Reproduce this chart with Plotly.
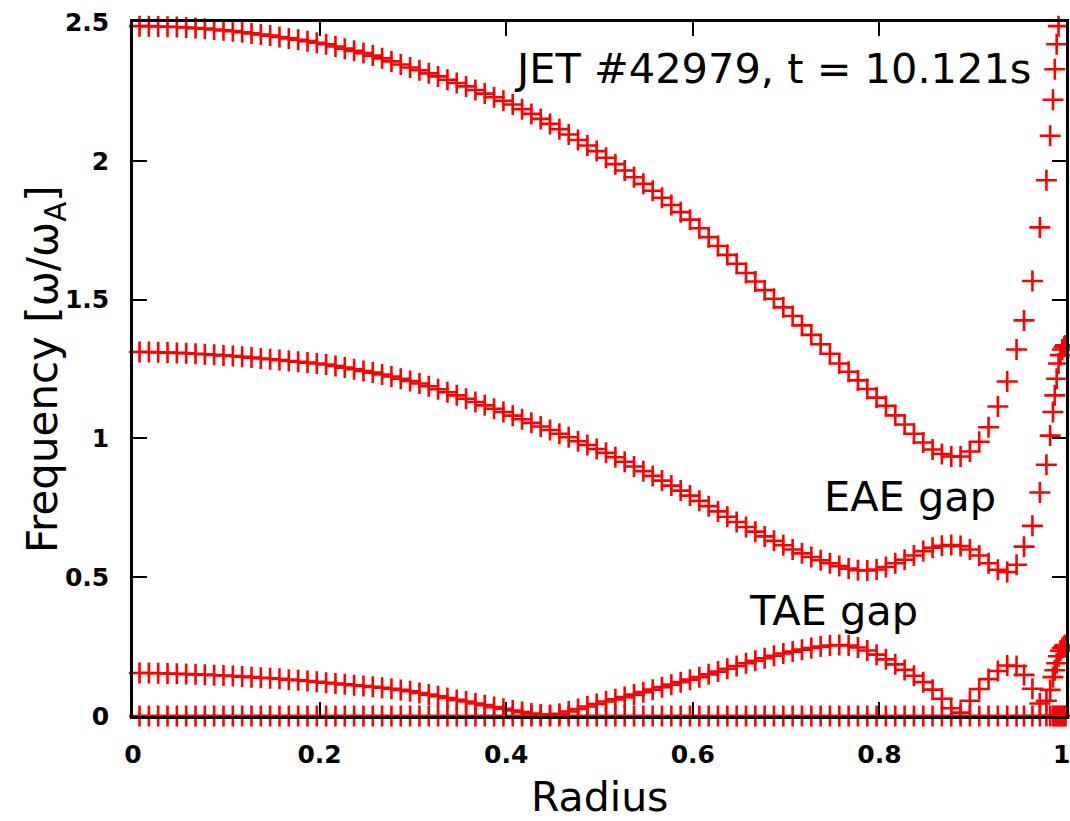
import plotly.graph_objects as go

# Radius grid (normalised minor radius)
radius = [0.007, 0.017, 0.027, 0.037, 0.047, 0.057, 0.067, 0.077, 0.087, 0.097,
          0.107, 0.117, 0.127, 0.137, 0.147, 0.157, 0.167, 0.177, 0.187, 0.197,
          0.207, 0.217, 0.227, 0.237, 0.247, 0.257, 0.267, 0.277, 0.287, 0.297,
          0.307, 0.317, 0.327, 0.337, 0.347, 0.357, 0.367, 0.377, 0.387, 0.397,
          0.407, 0.417, 0.427, 0.437, 0.447, 0.457, 0.467, 0.477, 0.487, 0.497,
          0.507, 0.517, 0.527, 0.537, 0.547, 0.557, 0.567, 0.577, 0.587, 0.597,
          0.607, 0.617, 0.627, 0.637, 0.647, 0.657, 0.667, 0.677, 0.687, 0.697,
          0.707, 0.717, 0.727, 0.737, 0.747, 0.757, 0.767, 0.777, 0.787, 0.797,
          0.807, 0.817, 0.827, 0.837, 0.847, 0.857, 0.867, 0.877, 0.887, 0.897,
          0.907, 0.917, 0.927, 0.937, 0.947,
          0.955, 0.964, 0.972, 0.979, 0.983, 0.986, 0.988, 0.990, 0.992, 0.994,
          0.996, 0.998, 0.9995]

# Upper continuum branch (above EAE gap)
freq_upper = [2.485, 2.485, 2.484, 2.483, 2.482, 2.480, 2.478, 2.476, 2.473, 2.470,
              2.467, 2.463, 2.459, 2.455, 2.451, 2.446, 2.441, 2.436, 2.431, 2.425,
              2.420, 2.412, 2.404, 2.396, 2.388, 2.379, 2.369, 2.358, 2.347, 2.336,
              2.326, 2.315, 2.304, 2.292, 2.280, 2.268, 2.255, 2.242, 2.229, 2.216,
              2.203, 2.186, 2.169, 2.151, 2.133, 2.114, 2.095, 2.075, 2.055, 2.035,
              2.011, 1.988, 1.965, 1.941, 1.917, 1.892, 1.867, 1.841, 1.815, 1.788,
              1.757, 1.725, 1.693, 1.661, 1.629, 1.596, 1.565, 1.534, 1.503, 1.472,
              1.441, 1.407, 1.373, 1.339, 1.305, 1.270, 1.240, 1.209, 1.178, 1.147,
              1.117, 1.083, 1.050, 1.017, 0.985, 0.960, 0.944, 0.935, 0.935, 0.953,
              0.988, 1.040, 1.115, 1.205, 1.320,
              1.425, 1.567, 1.760, 1.930, 2.090, 2.220, 2.330, 2.420, 2.485, None,
              None, None, None]

# Middle branch (between TAE and EAE gaps)
freq_middle = [1.311, 1.311, 1.310, 1.309, 1.308, 1.307, 1.305, 1.303, 1.301, 1.299,
               1.297, 1.294, 1.291, 1.288, 1.285, 1.282, 1.279, 1.276, 1.273, 1.270,
               1.266, 1.261, 1.255, 1.249, 1.243, 1.237, 1.230, 1.223, 1.215, 1.207,
               1.198, 1.188, 1.177, 1.166, 1.155, 1.143, 1.131, 1.119, 1.107, 1.095,
               1.082, 1.069, 1.056, 1.043, 1.030, 1.017, 1.004, 0.990, 0.976, 0.962,
               0.948, 0.932, 0.916, 0.899, 0.882, 0.865, 0.848, 0.830, 0.812, 0.794,
               0.775, 0.756, 0.737, 0.718, 0.699, 0.681, 0.664, 0.647, 0.631, 0.615,
               0.600, 0.586, 0.573, 0.561, 0.550, 0.540, 0.531, 0.525, 0.524, 0.528,
               0.537, 0.550, 0.563, 0.578, 0.594, 0.606, 0.613, 0.616, 0.612, 0.600,
               0.578, 0.550, 0.527, 0.519, 0.545,
               0.610, 0.685, 0.805, 0.905, 1.010, 1.095, 1.155, 1.215, 1.270, 1.300,
               1.320, 1.330, 1.335]

# Lower branch (below TAE gap)
freq_lower = [0.155, 0.155, 0.154, 0.153, 0.152, 0.151, 0.150, 0.149, 0.147, 0.146,
              0.144, 0.142, 0.140, 0.138, 0.136, 0.134, 0.131, 0.129, 0.126, 0.123,
              0.120, 0.117, 0.114, 0.111, 0.108, 0.105, 0.102, 0.098, 0.094, 0.089,
              0.083, 0.077, 0.071, 0.065, 0.058, 0.052, 0.045, 0.039, 0.032, 0.026,
              0.020, 0.014, 0.009, 0.005, 0.004, 0.008, 0.016, 0.025, 0.034, 0.043,
              0.052, 0.060, 0.068, 0.077, 0.086, 0.095, 0.104, 0.113, 0.122, 0.131,
              0.140, 0.150, 0.160, 0.170, 0.180, 0.190, 0.199, 0.208, 0.217, 0.225,
              0.232, 0.239, 0.245, 0.250, 0.254, 0.256, 0.254, 0.247, 0.236, 0.221,
              0.204, 0.186, 0.166, 0.145, 0.122, 0.095, 0.062, 0.028, 0.012, 0.055,
              0.097, 0.133, 0.162, 0.182, 0.180,
              0.148, 0.098, 0.045, 0.055, 0.094, 0.140, 0.165, 0.190, 0.215, 0.235,
              0.245, 0.252, 0.256]

# Zero-frequency branch
freq_zero = [0, 0, 0, 0, 0, 0, 0, 0, 0, 0,
             0, 0, 0, 0, 0, 0, 0, 0, 0, 0,
             0, 0, 0, 0, 0, 0, 0, 0, 0, 0,
             0, 0, 0, 0, 0, 0, 0, 0, 0, 0,
             0, 0, 0, 0, 0, 0, 0, 0, 0, 0,
             0, 0, 0, 0, 0, 0, 0, 0, 0, 0,
             0, 0, 0, 0, 0, 0, 0, 0, 0, 0,
             0, 0, 0, 0, 0, 0, 0, 0, 0, 0,
             0, 0, 0, 0, 0, 0, 0, 0, 0, 0,
             0, 0, 0, 0, 0,
             0, 0, 0, 0, 0, 0, 0, 0, 0, 0,
             0, 0, 0]

x_ticks = [0, 0.2, 0.4, 0.6, 0.8, 1]
x_tick_labels = ["0", "0.2", "0.4", "0.6", "0.8", "1&nbsp;"]
y_ticks = [0, 0.5, 1, 1.5, 2, 2.5]
y_tick_labels = ["0", "0.5", "1", "1.5", "2", "2.5"]

RED = "#ff0000"
marker = dict(symbol="cross-thin", size=15, color=RED, line=dict(color=RED, width=2.6))

fig = go.Figure()
for ys in (freq_upper, freq_middle, freq_lower, freq_zero):
    fig.add_trace(go.Scatter(x=radius, y=ys, mode="markers", marker=marker,
                             cliponaxis=False, showlegend=False, hoverinfo="skip"))

tickfont = dict(family="DejaVu Sans", size=25, color="black", weight="bold")

fig.update_layout(
    width=1070, height=821,
    margin=dict(l=133, r=4, t=22, b=105, autoexpand=False),
    paper_bgcolor="white", plot_bgcolor="white",
    xaxis=dict(range=[0, 1], tickvals=x_ticks, ticktext=x_tick_labels,
               showgrid=False, zeroline=False, showline=True, linecolor="black",
               linewidth=2.5, mirror="ticks", ticks="inside", ticklen=14,
               tickwidth=2, tickcolor="black", tickfont=tickfont, automargin=False,
               ticklabelstandoff=14, ticklabeloverflow="allow", layer="above traces"),
    yaxis=dict(range=[0, 2.5], tickvals=y_ticks, ticktext=y_tick_labels,
               showgrid=False, zeroline=False, showline=True, linecolor="black",
               linewidth=2.5, mirror="ticks", ticks="inside", ticklen=14,
               tickwidth=2, tickcolor="black", tickfont=tickfont, automargin=False,
               ticklabelstandoff=16, ticklabeloverflow="allow", layer="above traces"),
)

fig.add_annotation(text="Radius", xref="paper", yref="paper",
                   x=0.4995, y=-0.1165, xanchor="center", yanchor="middle",
                   showarrow=False,
                   font=dict(family="DejaVu Sans", size=41, color="black"))
fig.add_annotation(text="Frequency [ω/ω<sub>A</sub>]", xref="paper", yref="paper",
                   x=-0.0943, y=0.5, xanchor="center", yanchor="middle", textangle=-90,
                   showarrow=False,
                   font=dict(family="DejaVu Sans", size=42, color="black"))

ann_font = dict(family="DejaVu Sans", size=41.5, color="black")
fig.add_annotation(text="JET #42979, t = 10.121s", xref="paper", yref="paper",
                   x=0.9646, y=0.9337, xanchor="right", yanchor="middle",
                   showarrow=False, font=ann_font)
fig.add_annotation(text="EAE gap", xref="paper", yref="paper",
                   x=0.927, y=0.3156, xanchor="right", yanchor="middle",
                   showarrow=False, font=ann_font)
fig.add_annotation(text="TAE gap", xref="paper", yref="paper",
                   x=0.843, y=0.1527, xanchor="right", yanchor="middle",
                   showarrow=False, font=ann_font)

fig.write_html("out.html")
